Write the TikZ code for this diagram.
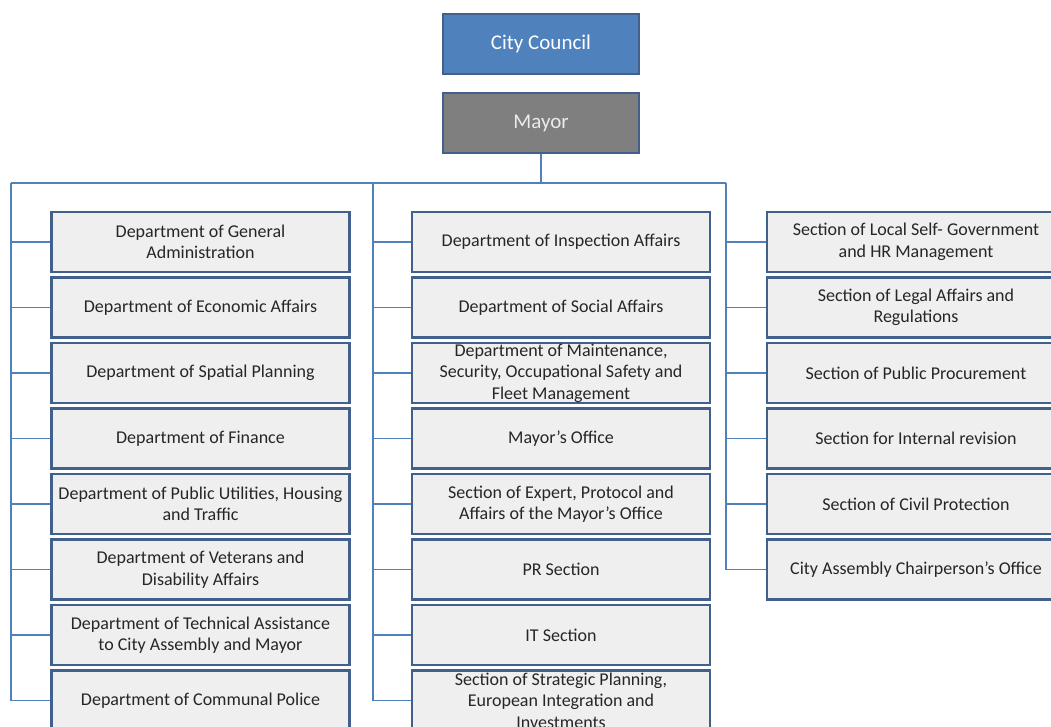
\documentclass[tikz,border=0pt]{standalone}
\usepackage{fontspec}
\setmainfont{Carlito}
\definecolor{boxfill}{HTML}{EFEFEF}
\definecolor{boxline}{HTML}{41618C}
\definecolor{conncol}{HTML}{4F81BD}
\definecolor{councilfill}{HTML}{4F81BD}
\definecolor{mayorfill}{HTML}{7F7F7F}
\definecolor{txt}{HTML}{262626}
\tikzset{
  unitbox/.style={draw=boxline, line width=2.5pt, fill=boxfill, minimum width=298pt, minimum height=60pt, inner sep=0pt, align=center, text=txt, font=\fontsize{18}{21.5}\selectfont},
  topbox/.style={draw=boxline, line width=2.5pt, minimum width=196pt, minimum height=60pt, inner sep=0pt, align=center, font=\fontsize{21}{25}\selectfont},
  conn/.style={draw=conncol, line width=1.4pt}
}
\begin{document}
\begin{tikzpicture}[x=1pt,y=-1pt]
\useasboundingbox (0,0) rectangle (1051,727);
\clip (0,0) rectangle (1051,727);
\fill[white] (0,0) rectangle (1051,727);
% top boxes
\node[topbox, fill=councilfill, text=white] (council) at (541,44) {City Council};
\node[topbox, fill=mayorfill, text=white!92!black] (mayor) at (541,123) {Mayor};
% bus coordinates
\coordinate (lt) at (11,183);
\coordinate (mt) at (373,183);
\coordinate (rt) at (726,183);
% left column
\node[unitbox] (L1) at (200.5,242) {Department of General\\Administration};
\node[unitbox] (L2) at (200.5,307.5) {Department of Economic Affairs};
\node[unitbox] (L3) at (200.5,373) {Department of Spatial Planning};
\node[unitbox] (L4) at (200.5,438.5) {Department of Finance};
\node[unitbox] (L5) at (200.5,504) {Department of Public Utilities, Housing\\and Traffic};
\node[unitbox] (L6) at (200.5,569.5) {Department of Veterans and\\Disability Affairs};
\node[unitbox] (L7) at (200.5,635) {Department of Technical Assistance\\to City Assembly and Mayor};
\node[unitbox] (L8) at (200.5,700.5) {Department of Communal Police};
% middle column
\node[unitbox] (M1) at (561,242) {Department of Inspection Affairs};
\node[unitbox] (M2) at (561,307.5) {Department of Social Affairs};
\node[unitbox] (M3) at (561,373) {Department of Maintenance,\\Security, Occupational Safety and\\Fleet Management};
\node[unitbox] (M4) at (561,438.5) {Mayor’s Office};
\node[unitbox] (M5) at (561,504) {Section of Expert, Protocol and\\Affairs of the Mayor’s Office};
\node[unitbox] (M6) at (561,569.5) {PR Section};
\node[unitbox] (M7) at (561,635) {IT Section};
\node[unitbox] (M8) at (561,700.5) {Section of Strategic Planning,\\European Integration and\\Investments};
% right column
\node[unitbox] (R1) at (916,242) {Section of Local Self- Government\\and HR Management};
\node[unitbox] (R2) at (916,307.5) {Section of Legal Affairs and\\Regulations};
\node[unitbox] (R3) at (916,373) {Section of Public Procurement};
\node[unitbox] (R4) at (916,438.5) {Section for Internal revision};
\node[unitbox] (R5) at (916,504) {Section of Civil Protection};
\node[unitbox] (R6) at (916,569.5) {City Assembly Chairperson’s Office};
% connectors
\draw[conn] (mayor.south) |- (lt);
\draw[conn] (mayor.south) |- (rt);
\foreach \i in {1,...,8} {
  \draw[conn] (lt) |- (L\i.west);
  \draw[conn] (mt) |- (M\i.west);
}
\foreach \i in {1,...,6} {
  \draw[conn] (rt) |- (R\i.west);
}
\end{tikzpicture}
\end{document}
